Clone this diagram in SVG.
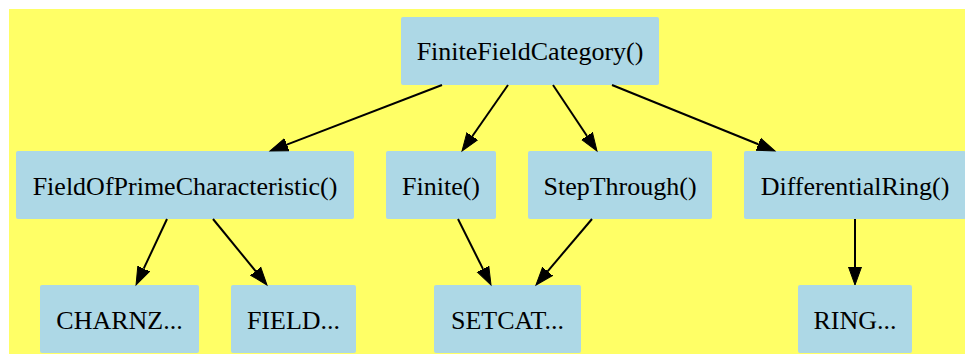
<svg xmlns="http://www.w3.org/2000/svg" width="965" height="354" viewBox="0 0 965 354">
<style>
.n rect{fill:#add8e6;stroke:none}
.n text{font-family:'Liberation Serif','DejaVu Serif',serif;font-size:26px;fill:#000;text-anchor:middle}
.e path{fill:none;stroke:#000;stroke-width:2}
</style>
<defs>
<marker id="ah" markerUnits="userSpaceOnUse" markerWidth="20" markerHeight="16" viewBox="0 -8 20 16" refX="0" refY="0" orient="auto">
<path d="M0,-6.5 L18,0 L0,6.5 z" fill="#000" stroke="#000" stroke-width="1"/>
</marker>
</defs>
<rect x="9" y="9" width="956" height="345" fill="#ffff66"/>
<g id="FiniteFieldCategory" class="n"><rect x="401" y="17" width="258" height="68" rx="2"/><text x="530" y="60" font-family="Liberation Serif, serif">FiniteFieldCategory()</text></g>
<g id="FieldOfPrimeCharacteristic" class="n"><rect x="16" y="151" width="338" height="68" rx="2"/><text x="185" y="195" font-family="Liberation Serif, serif">FieldOfPrimeCharacteristic()</text></g>
<g id="Finite" class="n"><rect x="386" y="151" width="110" height="68" rx="2"/><text x="441" y="195" font-family="Liberation Serif, serif">Finite()</text></g>
<g id="StepThrough" class="n"><rect x="528" y="151" width="184" height="68" rx="2"/><text x="620" y="195" font-family="Liberation Serif, serif">StepThrough()</text></g>
<g id="DifferentialRing" class="n"><rect x="744" y="151" width="222" height="68" rx="2"/><text x="855" y="195" font-family="Liberation Serif, serif">DifferentialRing()</text></g>
<g id="CHARNZ" class="n"><rect x="40" y="285" width="159" height="68" rx="2"/><text x="119.5" y="329" font-family="Liberation Serif, serif">CHARNZ...</text></g>
<g id="FIELD" class="n"><rect x="231" y="285" width="125" height="68" rx="2"/><text x="293.5" y="329" font-family="Liberation Serif, serif">FIELD...</text></g>
<g id="SETCAT" class="n"><rect x="434" y="285" width="147" height="68" rx="2"/><text x="507.5" y="329" font-family="Liberation Serif, serif">SETCAT...</text></g>
<g id="RING" class="n"><rect x="798" y="285" width="114" height="68" rx="2"/><text x="855" y="329" font-family="Liberation Serif, serif">RING...</text></g>
<g id="edges" class="e">
<path d="M442,85 L286.8,144.6" marker-end="url(#ah)"/>
<path d="M508,85 L472.3,136.2" marker-end="url(#ah)"/>
<path d="M553,85 L587,136" marker-end="url(#ah)"/>
<path d="M612,85 L758.3,144.25" marker-end="url(#ah)"/>
<path d="M167,219 L143.7,268.7" marker-end="url(#ah)"/>
<path d="M213,219 L255.6,271.1" marker-end="url(#ah)"/>
<path d="M458,219 L482.95,268.9" marker-end="url(#ah)"/>
<path d="M592,219 L547.6,271.3" marker-end="url(#ah)"/>
<path d="M855,219 L855,267" marker-end="url(#ah)"/>
</g>
</svg>
